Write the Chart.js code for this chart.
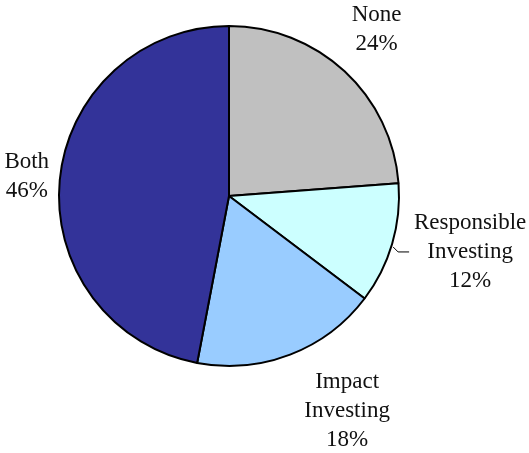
<!DOCTYPE html>
<html>
<head>
<meta charset="utf-8">
<script src="https://cdn.jsdelivr.net/npm/chart.js@4/dist/chart.umd.min.js"></script>
<style>
  html, body { margin: 0; padding: 0; background: #fff; }
  #wrap { width: 529px; height: 453px; position: relative; }
</style>
</head>
<body>
<div id="wrap"><canvas id="pie"></canvas></div>
<script>
const categories = ["None", "Responsible Investing", "Impact Investing", "Both"]
const shares = [23.8, 11.5, 17.7, 47.0]
// percentages as printed on the labels
const pctLabels = ["24%", "12%", "18%", "46%"]
const colors = ["#C0C0C0", "#CCFFFF", "#99CCFF", "#333399"]

// label text lines per slice (name split like the original)
const labelLines = [["None"], ["Responsible", "Investing"], ["Impact", "Investing"], ["Both"]]
// nudges from the slice's outer edge midpoint to the label centre
const labelNudge = [[32, -42], [78, 8], [57, 56], [-33, -4]]

const outsideLabels = {
  id: "outsideLabels",
  afterDatasetsDraw(chart) {
    const ctx = chart.ctx
    const meta = chart.getDatasetMeta(0)
    ctx.save()
    ctx.font = "23px 'Liberation Serif', serif"
    ctx.fillStyle = "#111"
    ctx.textAlign = "center"
    ctx.textBaseline = "middle"
    const lineH = 29
    meta.data.forEach((arc, i) => {
      const mid = (arc.startAngle + arc.endAngle) / 2
      const ex = arc.x + Math.cos(mid) * arc.outerRadius
      const ey = arc.y + Math.sin(mid) * arc.outerRadius
      const cx = ex + labelNudge[i][0]
      const cy = ey + labelNudge[i][1]
      const lines = labelLines[i].concat([pctLabels[i]])
      const top = cy - (lines.length - 1) * lineH / 2
      lines.forEach((t, k) => ctx.fillText(t, cx, top + k * lineH))

      // leader line for the small slice
      if (i === 1) {
        ctx.strokeStyle = "#000"
        ctx.lineWidth = 1
        ctx.beginPath()
        ctx.moveTo(ex + 1, ey + 3)
        ctx.lineTo(ex + 6, ey + 8)
        ctx.lineTo(ex + 17, ey + 8)
        ctx.stroke()
      }
    })
    ctx.restore()
  }
}

new Chart(document.getElementById("pie"), {
  type: "pie",
  data: {
    labels: categories,
    datasets: [{
      data: shares,
      backgroundColor: colors,
      borderColor: "#000",
      borderWidth: 2
    }]
  },
  options: {
    responsive: true,
    maintainAspectRatio: false,
    animation: false,
    layout: {
      padding: {top: 25, bottom: 86, left: 58, right: 129}
    },
    plugins: {
      legend: {display: false},
      tooltip: {enabled: false}
    }
  },
  plugins: [outsideLabels]
})
</script>
</body>
</html>
